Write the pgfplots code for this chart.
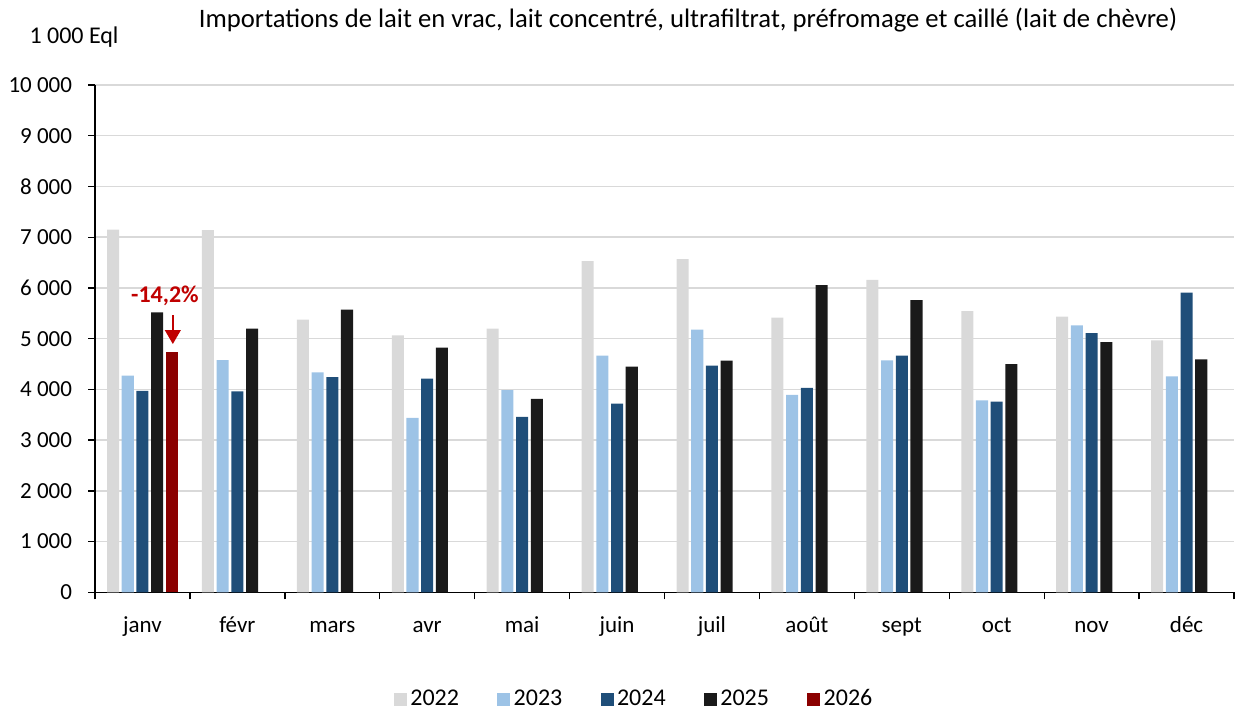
\documentclass[border=0pt]{standalone}
\usepackage{fontspec}
\setmainfont{Carlito}
\usepackage{pgfplots}
\pgfplotsset{compat=1.18}
\usetikzlibrary{arrows.meta}
\definecolor{c2022}{HTML}{D9D9D9}
\definecolor{c2023}{HTML}{9DC3E6}
\definecolor{c2024}{HTML}{1F4E79}
\definecolor{c2025}{HTML}{1A1A1A}
\definecolor{c2026}{HTML}{8B0000}
\definecolor{cred}{HTML}{C00000}
\definecolor{cgrid}{HTML}{D9D9D9}
\pgfplotsset{sqleg/.style={legend image code/.code={\fill[##1] (0pt,-3.9pt) rectangle (7.8pt,3.9pt);}}}
\begin{document}
\fontsize{13.8}{16.5}\selectfont
\begin{tikzpicture}[font=\fontsize{13.8}{16.5}\selectfont]
\useasboundingbox (-57pt,-70.6pt) rectangle (684pt,355.4pt);
\begin{axis}[
  at={(0pt,0pt)}, anchor=south west,
  scale only axis, width=683.4pt, height=304.4pt,
  ybar, bar width=0.127,
  xmin=-0.5, xmax=11.5, ymin=0, ymax=10000,
  axis x line*=bottom, axis y line*=left,
  axis line style={black, line width=0.8pt, -},
  xtick={-0.5,0.5,...,11.5},
  x tick label as interval,
  xticklabels={janv,févr,mars,avr,mai,juin,juil,août,sept,oct,nov,déc},
  ytick={0,1000,...,10000},
  yticklabels={0,1 000,2 000,3 000,4 000,5 000,6 000,7 000,8 000,9 000,10 000},
  scaled y ticks=false,
  tick align=outside, major tick length=4.2pt,
  tick style={black, line width=0.8pt},
  ymajorgrids, grid style={color=cgrid, line width=0.9pt},
  every tick label/.append style={font=\fontsize{13.8}{16.5}\selectfont, text=black},
  xticklabel style={yshift=-4.8pt, text height=10pt, text depth=3pt},
  yticklabel style={xshift=-4.8pt},
  legend columns=5,
  legend style={at={(0.474,-0.2103)}, anchor=center, draw=none, fill=none,
    font=\fontsize{14.4}{17}\selectfont,
    /tikz/every even column/.append style={column sep=21pt}},
]
\addplot[sqleg, fill=c2022, draw=none, bar shift=-0.31] coordinates {
(0,7151) (1,7138) (2,5374) (3,5065) (4,5197) (5,6528) (6,6567) (7,5413) (8,6161) (9,5543) (10,5433) (11,4967)};
\addplot[sqleg, fill=c2023, draw=none, bar shift=-0.155] coordinates {
(0,4272) (1,4579) (2,4337) (3,3437) (4,3988) (5,4665) (6,5177) (7,3890) (8,4573) (9,3785) (10,5262) (11,4258)};
\addplot[sqleg, fill=c2024, draw=none, bar shift=0] coordinates {
(0,3969) (1,3963) (2,4244) (3,4213) (4,3457) (5,3720) (6,4469) (7,4028) (8,4665) (9,3760) (10,5110) (11,5906)};
\addplot[sqleg, fill=c2025, draw=none, bar shift=0.155] coordinates {
(0,5518) (1,5197) (2,5571) (3,4823) (4,3811) (5,4449) (6,4567) (7,6055) (8,5760) (9,4500) (10,4933) (11,4593)};
\addplot[sqleg, fill=c2026, draw=none, bar shift=0.31] coordinates {
(0,4735)};
\legend{2022,2023,2024,2025,2026}
\node[anchor=base, text=cred, font=\fontsize{14.4}{17}\selectfont\bfseries] at (axis cs:0.237,5722) {-14,2\%};
\draw[cred, line width=1.2pt, -{Triangle[width=9.4pt,length=8.4pt]}] (axis cs:0.32,5466) -- (axis cs:0.32,4894);
\end{axis}
\node[anchor=base, font=\fontsize{16}{19}\selectfont] at (355.8pt,339pt) {Importations de lait en vrac, lait concentré, ultrafiltrat, préfromage et caillé (lait de chèvre)};
\node[anchor=base, font=\fontsize{14.4}{17}\selectfont] at (-12.6pt,329pt) {1 000 Eql};
\end{tikzpicture}
\end{document}
